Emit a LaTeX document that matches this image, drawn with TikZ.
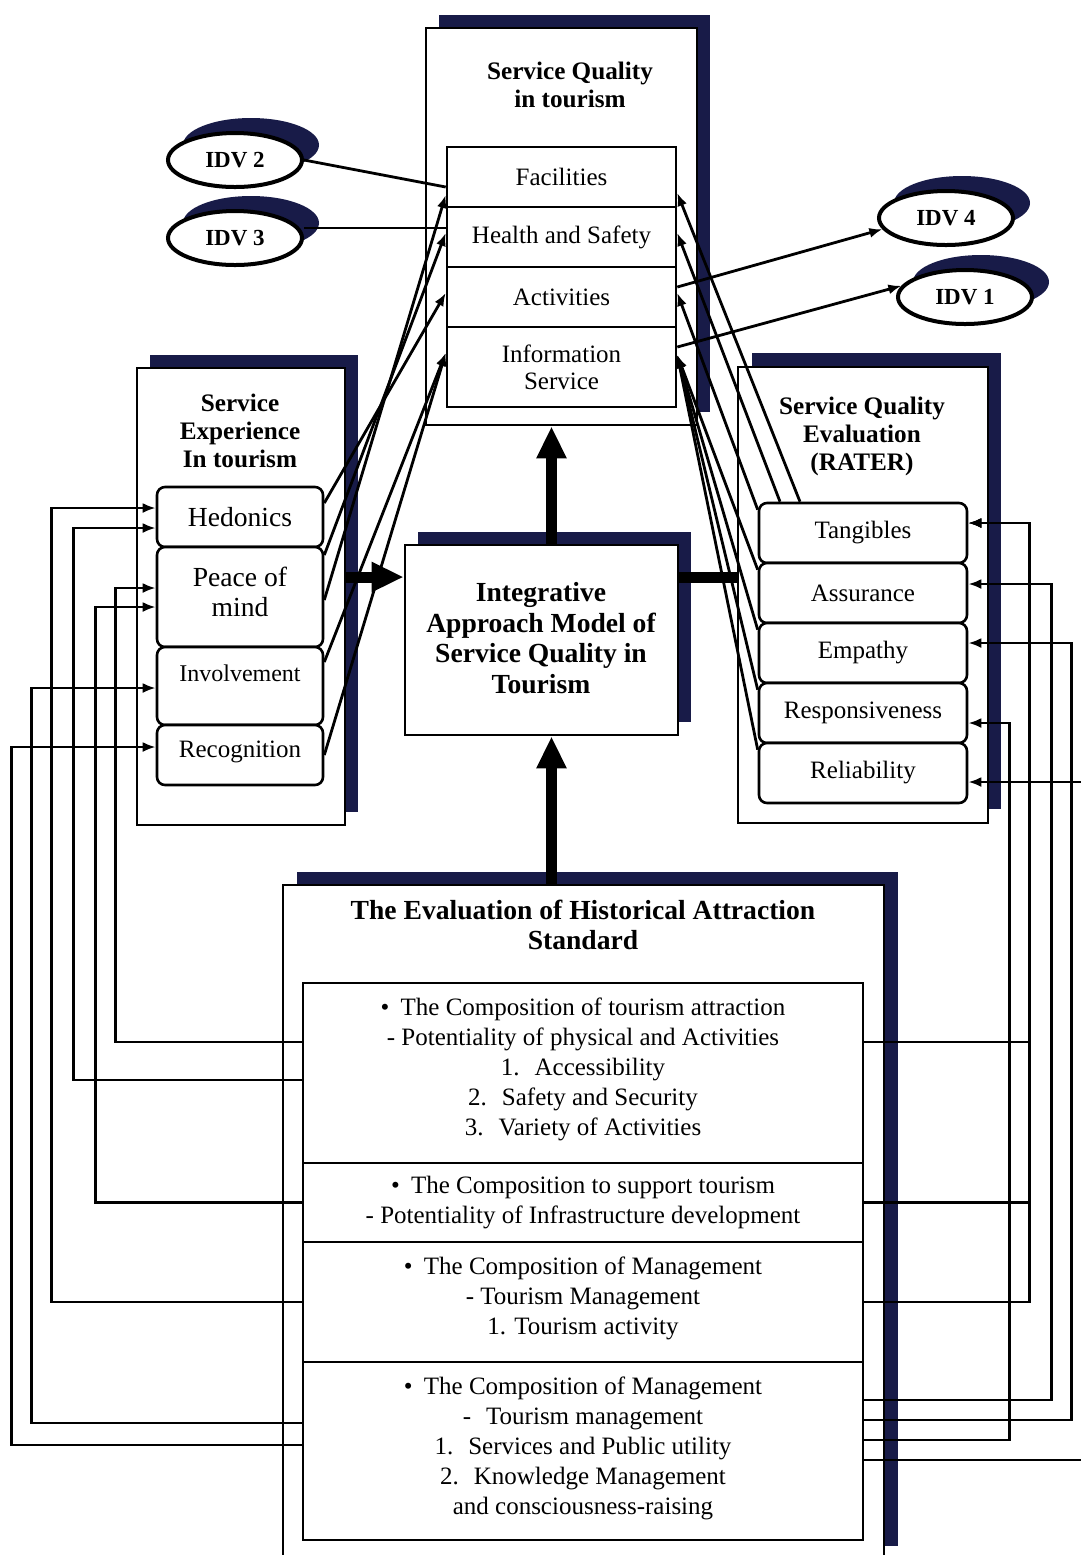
\documentclass[tikz,border=0pt]{standalone}
\usepackage{fontspec}
\setmainfont{Liberation Serif}
\usetikzlibrary{arrows.meta,fit,shapes.geometric}
\definecolor{shadowblue}{RGB}{24,27,72}
\tikzset{
  sh/.style={fill=shadowblue, draw=none},
  frontbox/.style={draw=black, fill=white, line width=1.3pt, inner sep=0pt},
  itembox/.style={draw=black, fill=white, line width=1.3pt, inner sep=0pt},
  ritem/.style={itembox, rounded corners=4pt},
  itxt/.style={align=center, inner sep=0pt, font=\fontsize{12.5}{13.5}\selectfont},
  bigitem/.style={align=center, inner sep=0pt, font=\fontsize{13.8}{15}\selectfont},
  ttl/.style={align=center, font=\bfseries\fontsize{12.6}{14}\selectfont},
  bigttl/.style={align=center, font=\bfseries\fontsize{13.8}{15.3}\selectfont},
  comp/.style={align=center, inner sep=0pt, font=\fontsize{12.5}{15}\selectfont},
  idv/.style={ellipse, draw=black, fill=white, line width=2pt, minimum width=67pt, minimum height=27pt, inner sep=0pt, font=\bfseries\fontsize{11.5}{12}\selectfont},
  conn/.style={line width=1.4pt, draw=black},
  arr/.style={conn, -{Latex[length=6.5pt,width=5pt]}},
  thickln/.style={line width=5.5pt, draw=black},
  thickarr/.style={thickln, -{Triangle[length=16pt,width=14pt]}},
}
\begin{document}
\begin{tikzpicture}[x=0.5pt,y=-0.5pt]
\useasboundingbox (0,0) rectangle (1081,1555);
\clip (0,0) rectangle (1081,1555);
\fill[white] (0,0) rectangle (1081,1555);

% ---------- Service Quality in tourism ----------
\fill[sh] (439,15) rectangle (710,412);
\node[frontbox, fit={(426,28) (697,425)}] (sqt) {};
\node[ttl] (sqtt) at (570,85) {Service Quality\\in tourism};
\node[itembox, fit={(447,147) (676,207)}] (fac) {};
\node[itembox, fit={(447,207) (676,267)}] (hs) {};
\node[itembox, fit={(447,267) (676,327)}] (act) {};
\node[itembox, fit={(447,327) (676,407)}] (info) {};
\node[itxt] (facT) at (fac) {Facilities};
\node[itxt] (hsT) at (hs) {Health and Safety};
\node[itxt] (actT) at (act) {Activities};
\node[itxt] (infoT) at (info) {Information\\Service};

% ---------- Service Experience ----------
\fill[sh] (150,355) rectangle (358,812);
\node[frontbox, fit={(137,368) (345,825)}] (seb) {};
\node[ttl] (sebt) at (240,431) {Service\\Experience\\In tourism};
\node[ritem, fit={(157,487) (323,547)}] (hed) {};
\node[ritem, fit={(157,547) (323,647)}] (pom) {};
\node[ritem, fit={(157,647) (323,725)}] (inv) {};
\node[ritem, fit={(157,725) (323,785)}] (rec) {};
\node[bigitem] (hedT) at (hed) {Hedonics};
\node[bigitem] (pomT) at ([yshift=2.5pt]pom.center) {Peace of\\mind};
\node[itxt, font=\fontsize{12}{13}\selectfont] (invT) at (240,673) {Involvement};
\node[itxt] (recT) at ([yshift=1.5pt]rec.center) {Recognition};

% ---------- RATER ----------
\fill[sh] (752,353) rectangle (1001,809);
\node[frontbox, fit={(738,367) (988,823)}] (rater) {};
\node[ttl] (ratert) at (862,436) {Service Quality\\Evaluation\\(RATER)};
\node[ritem, fit={(759,503) (967,563)}] (tan) {};
\node[ritem, fit={(759,563) (967,623)}] (ass) {};
\node[ritem, fit={(759,623) (967,683)}] (emp) {};
\node[ritem, fit={(759,683) (967,743)}] (res) {};
\node[ritem, fit={(759,743) (967,803)}] (rel) {};
\node[itxt] (tanT) at (tan) {Tangibles};
\node[itxt] (assT) at (ass) {Assurance};
\node[itxt] (empT) at (emp) {Empathy};
\node[itxt] (resT) at (res) {Responsiveness};
\node[itxt] (relT) at (rel) {Reliability};

% ---------- Integrative model ----------
\fill[sh] (418,532) rectangle (691,722);
\node[frontbox, fit={(405,545) (678,735)}] (iam) {};
\node[bigttl] (iamT) at (541,638) {Integrative\\Approach Model of\\Service Quality in\\Tourism};

% ---------- Evaluation of Historical Attraction Standard ----------
\fill[sh] (297,872) rectangle (898,1546);
\node[frontbox, fit={(283,885) (884,1600)}] (ehs) {};
\node[bigttl] (ehst) at (583,925) {The Evaluation of Historical Attraction\\Standard};
\node[itembox, fit={(303,983) (863,1163)}] (c1) {};
\node[itembox, fit={(303,1163) (863,1242)}] (c2) {};
\node[itembox, fit={(303,1242) (863,1362)}] (c3) {};
\node[itembox, fit={(303,1362) (863,1540)}] (c4) {};
\node[comp] (c1T) at ([yshift=2pt]c1.center) {•\hspace{0.45em}The Composition of tourism attraction\\- Potentiality of physical and Activities\\1.\hspace{0.6em}Accessibility\\2.\hspace{0.6em}Safety and Security\\3.\hspace{0.6em}Variety of Activities};
\node[comp] (c2T) at (c2) {•\hspace{0.45em}The Composition to support tourism\\- Potentiality of Infrastructure development};
\node[comp] (c3T) at ([yshift=2pt]c3.center) {•\hspace{0.45em}The Composition of Management\\- Tourism Management\\1. Tourism activity};
\node[comp] (c4T) at ([yshift=1.5pt]c4.center) {•\hspace{0.45em}The Composition of Management\\-\hspace{0.6em}Tourism management\\1.\hspace{0.6em}Services and Public utility\\2.\hspace{0.6em}Knowledge Management\\and consciousness-raising};

% ---------- IDV ellipses ----------
\fill[sh] (251,145) ellipse [x radius=34pt, y radius=13.5pt];
\node[idv] (idv2) at (235,160) {IDV 2};
\fill[sh] (251,223) ellipse [x radius=34pt, y radius=13.5pt];
\node[idv] (idv3) at (235,238) {IDV 3};
\fill[sh] (962,203) ellipse [x radius=34pt, y radius=13.5pt];
\node[idv] (idv4) at (946,218) {IDV 4};
\fill[sh] (981,282) ellipse [x radius=34pt, y radius=13.5pt];
\node[idv] (idv1) at (965,297) {IDV 1};

% ---------- IDV connectors ----------
\draw[conn] (idv2.east) -- ([yshift=-5pt]fac.west);
\coordinate (i3) at ([yshift=5pt]idv3.east);
\draw[conn] (i3) -- (i3 -| hs.west);
\draw[arr] ([yshift=5pt]act.east) -- (idv4.190);
\draw[arr] ([yshift=10pt]info.east) -- (idv1.170);

% ---------- experience -> service quality ----------
\draw[arr] ([yshift=7pt]hed.east) -- ([yshift=2pt]act.west);
\draw[arr] ([yshift=21pt]pom.east) -- ([yshift=2pt]hs.west);
\draw[arr] ([yshift=-1.5pt]pom.east) -- ([yshift=-9pt]fac.west);
\draw[arr] ([yshift=12pt]inv.east) -- ([yshift=7pt]info.west);
\draw[arr] (rec.east) -- ([yshift=7pt]info.west);

% ---------- RATER -> service quality ----------
\draw[arr] ([xshift=-31.5pt]tan.north) -- ([yshift=-8pt]fac.east);
\draw[arr] ([xshift=-41.5pt]tan.north) -- ([yshift=2pt]hs.east);
\draw[arr] ([yshift=-4pt]tan.north west) -- ([yshift=2pt]act.east);
\draw[arr] ([yshift=-4pt]ass.north west) -- ([yshift=6pt]info.east);
\draw[arr] ([yshift=-4pt]emp.north west) -- ([yshift=6pt]info.east);
\draw[arr] ([yshift=-4pt]res.north west) -- ([yshift=6pt]info.east);
\draw[arr] ([yshift=-4pt]rel.north west) -- ([yshift=6pt]info.east);

% ---------- standard -> experience (left) ----------
\draw[arr] ([yshift=15.5pt]c1.west) -- ++(-186,0) |- ([yshift=4.5pt]pom.west);
\draw[arr] ([yshift=-3.5pt]c1.west) -- ++(-228,0) |- ([yshift=-5.5pt]hed.west);
\draw[arr] (c2.west) -- ++(-206,0) |- ([yshift=-5pt]pom.west);
\draw[arr] (c3.west) -- ++(-250,0) |- ([yshift=4.5pt]hed.west);
\draw[arr] ([yshift=14pt]c4.west) -- ++(-270,0) |- ([yshift=-1pt]inv.west);
\draw[arr] ([yshift=3pt]c4.west) -- ++(-290,0) |- ([yshift=4pt]rec.west);

% ---------- standard -> RATER (right) ----------
\draw[arr] ([yshift=15.5pt]c1.east) -- ++(165,0) |- ([yshift=5pt]tan.east);
\draw[arr] (c2.east) -- ++(165,0) |- ([yshift=5pt]tan.east);
\draw[arr] (c3.east) -- ++(165,0) |- ([yshift=5pt]tan.east);
\draw[arr] ([yshift=25.5pt]c4.east) -- ++(187,0) |- ([yshift=4.5pt]ass.east);
\draw[arr] ([yshift=15.5pt]c4.east) -- ++(207,0) |- ([yshift=5pt]emp.east);
\draw[arr] ([yshift=5.5pt]c4.east) -- ++(145,0) |- ([yshift=-5pt]res.east);
\draw[arr] ([yshift=-4.5pt]c4.east) -- ++(237,0) |- ([yshift=-4.5pt]rel.east);

% ---------- thick arrows ----------
\coordinate (la) at ([yshift=31.5pt]iam.west);
\draw[thickarr] (seb.east |- la) -- (la);
\draw[thickln] (iam.east |- la) -- (rater.west |- la);
\coordinate (ua) at ([xshift=5pt]iam.north);
\draw[thickarr] (ua) -- (ua |- sqt.south);
\coordinate (da) at ([xshift=5pt]iam.south);
\draw[thickarr] (da |- ehs.north) -- (da);
\end{tikzpicture}
\end{document}
